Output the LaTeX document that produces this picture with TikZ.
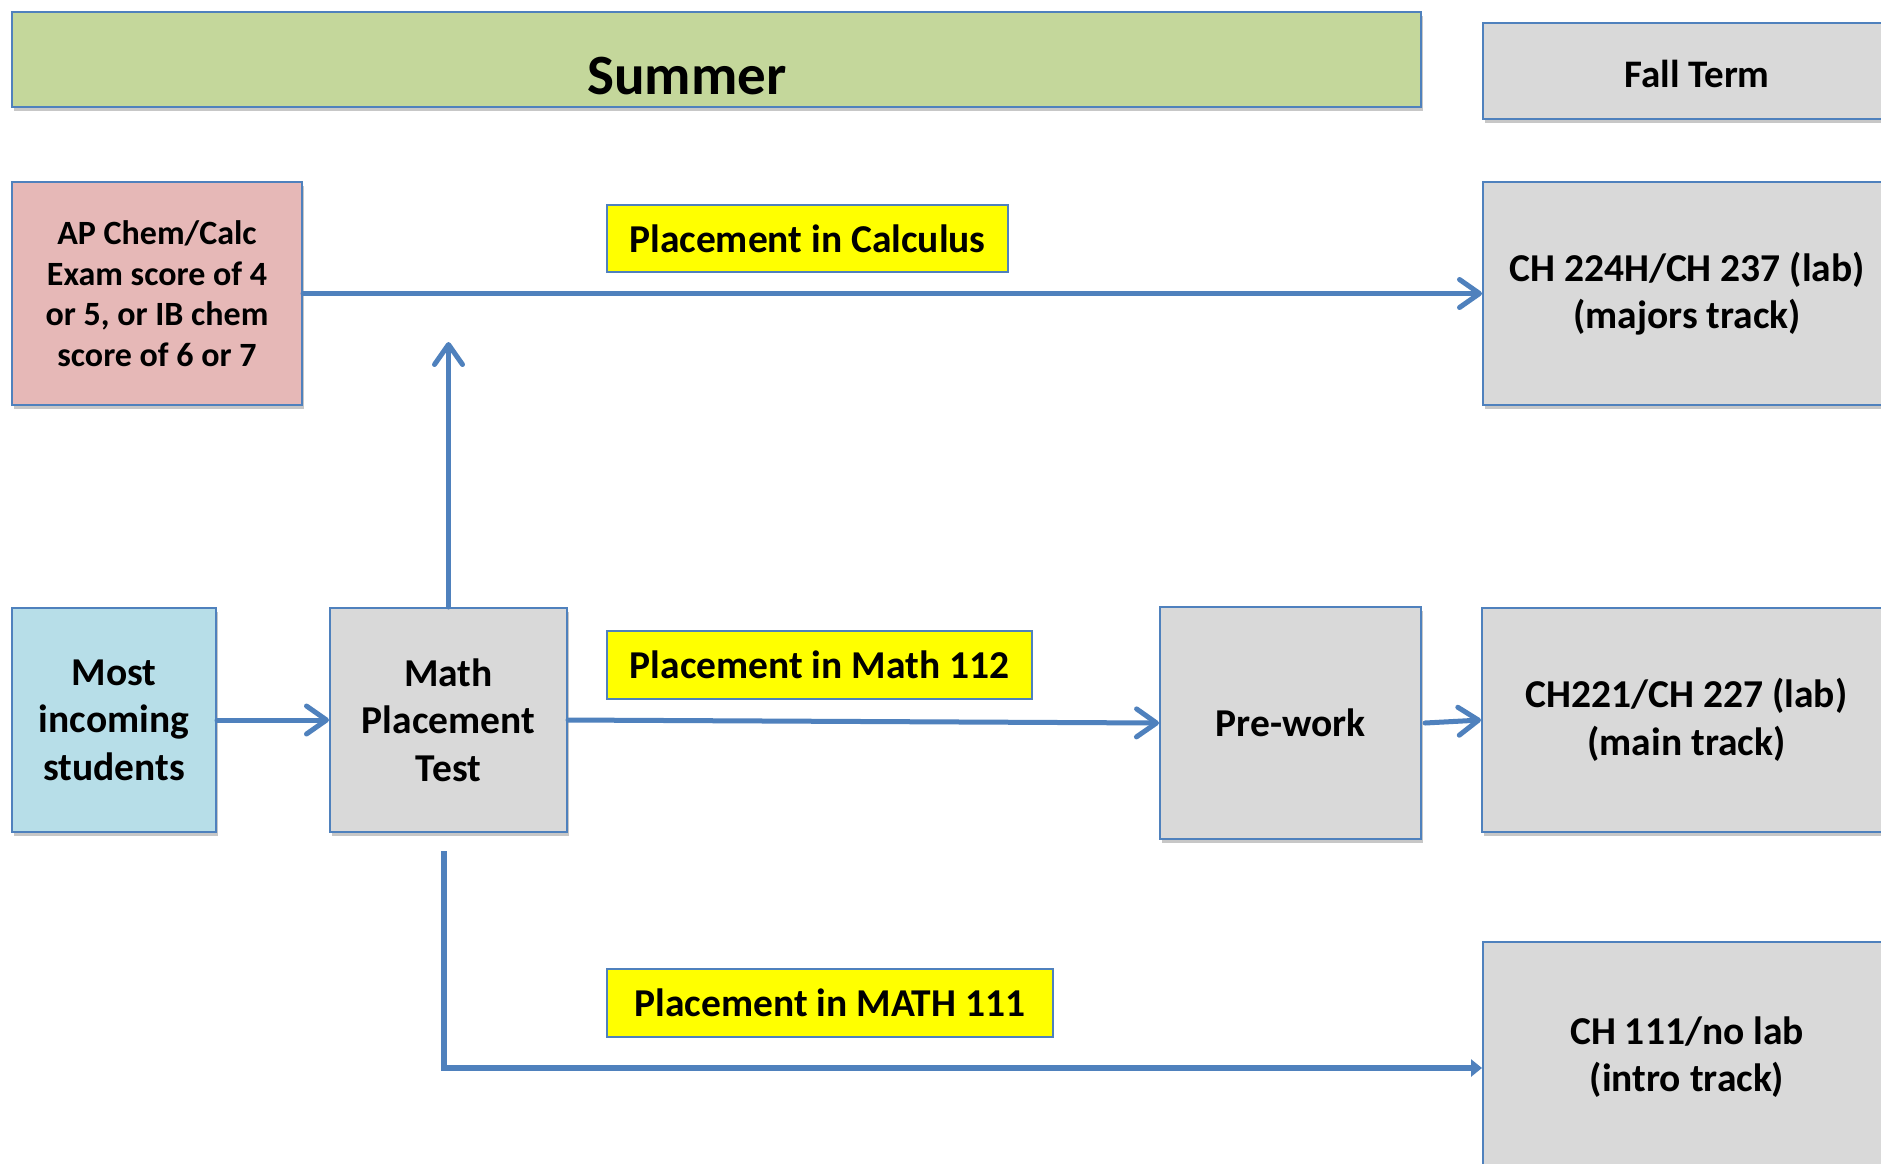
\documentclass[tikz,border=0pt]{standalone}
\usepackage{fontspec}
\setmainfont{Carlito}
\usetikzlibrary{arrows.meta,shadows}
\definecolor{bordblue}{RGB}{79,129,189}
\definecolor{summergreen}{RGB}{196,215,155}
\definecolor{appink}{RGB}{230,184,183}
\definecolor{stublue}{RGB}{183,222,232}
\definecolor{boxgray}{RGB}{217,217,217}
\definecolor{hiyellow}{RGB}{255,255,0}
\tikzset{
  box/.style={draw=bordblue, line width=2pt, inner sep=0pt, align=center,
    font=\bfseries\fontsize{39.5}{47.5}\selectfont,
    drop shadow={shadow xshift=2pt, shadow yshift=-4pt, opacity=.22, fill=black}},
  lbl/.style={draw=bordblue, line width=1.5pt, fill=hiyellow, inner sep=0pt,
    font=\bfseries\fontsize{39.5}{46}\selectfont},
  conn/.style={draw=bordblue, line width=5pt, line cap=round, line join=round,
    -{Straight Barb[length=20pt,width=28pt,line cap=round,line join=round]}},
  connt/.style={draw=bordblue, line width=5.5pt, line join=miter,
    -{Triangle[length=11pt,width=17pt]}}
}
\begin{document}
\begin{tikzpicture}[x=1pt,y=-1pt]
\clip (0,0) rectangle (1881,1163);
\fill[white] (0,0) rectangle (1881,1163);
% header boxes
\node[box, fill=summergreen, minimum width=1409pt, minimum height=95pt] (summer) at (716.5,59.5) {};
\node[font=\bfseries\fontsize{57}{68}\selectfont] (summertxt) at (687,76) {Summer};
\node[box, fill=boxgray, minimum width=408pt, minimum height=96pt] (fall) at (1687,71) {};
\node[font=\bfseries\fontsize{39}{47}\selectfont] (falltxt) at (1697,74) {Fall Term};
% row 1
\node[box, fill=appink, minimum width=290pt, minimum height=223pt, font=\bfseries\fontsize{34}{40.5}\selectfont] (ap) at (157,293.5) {AP Chem/Calc\\Exam score of 4\\or 5, or IB chem\\score of 6 or 7};
\node[box, fill=boxgray, minimum width=408pt, minimum height=223pt] (ch224) at (1687,293.5) {CH 224H/CH 237 (lab)\\(majors track)};
\node[lbl, minimum width=401pt, minimum height=67pt] (lcalc) at (807.5,238.5) {Placement in Calculus};
% row 2
\node[box, fill=stublue, minimum width=204pt, minimum height=224pt] (most) at (114,720) {Most\\incoming\\students};
\node[box, fill=boxgray, minimum width=237pt, minimum height=224pt] (math) at (448.5,720) {Math\\Placement\\Test};
\node[box, fill=boxgray, minimum width=261pt, minimum height=232pt] (prework) at (1290.5,723) {Pre-work};
\node[box, fill=boxgray, minimum width=409pt, minimum height=224pt] (ch221) at (1686.5,720) {CH221/CH 227 (lab)\\(main track)};
\node[lbl, minimum width=425pt, minimum height=68pt] (l112) at (819.5,665) {Placement in Math 112};
% row 3
\node[box, fill=boxgray, minimum width=408pt, minimum height=230pt] (ch111) at (1687,1057) {CH 111/no lab\\(intro track)};
\node[lbl, minimum width=446pt, minimum height=68pt] (l111) at (830,1003) {Placement in MATH 111};
% connectors
\coordinate (uptip) at (448.5,342);
\coordinate (botstart) at (444,851);
\draw[conn] (ap.east) -- (ch224.west);
\draw[conn] (most.east) -- (math.west);
\draw[conn] (math.east) -- (prework.west);
\draw[conn] ([xshift=3pt]prework.east) -- (ch221.west);
\draw[conn] (math.north) -- (uptip);
\draw[connt] (botstart) |- ([yshift=-11pt]ch111.west);
\end{tikzpicture}
\end{document}
